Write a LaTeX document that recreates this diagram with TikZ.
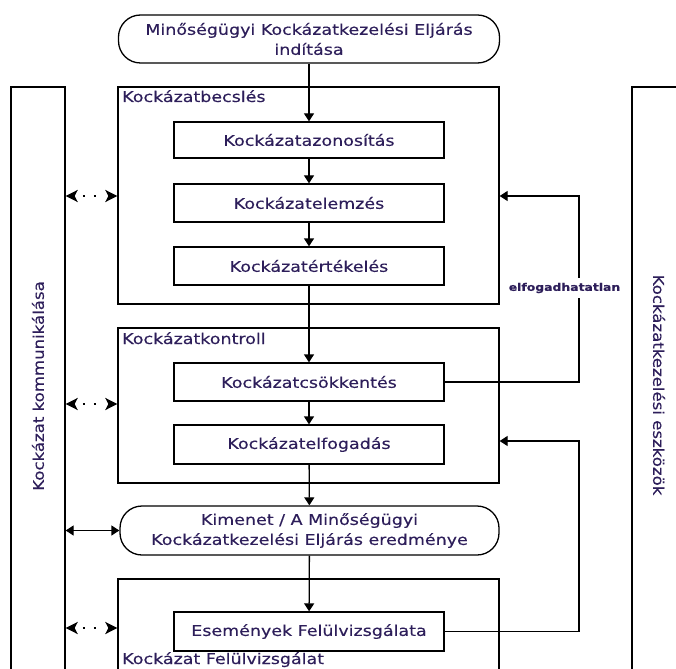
\documentclass[tikz,border=0pt]{standalone}
\usepackage{fontspec}
\setmainfont{DejaVu Sans}[FakeStretch=1.18,FakeBold=0.25]
\newfontfamily\vertfont{DejaVu Sans}[FakeStretch=1.12,FakeBold=0.25]
\usetikzlibrary{arrows.meta}
\definecolor{txt}{RGB}{45,30,90}
\tikzset{
  box/.style={draw, line width=1.3pt, minimum width=270pt, minimum height=38pt, inner sep=0pt,
    font=\fontsize{14.8}{18}\selectfont, text=txt},
  group/.style={draw, line width=1.3pt, inner sep=0pt, minimum width=381pt},
  term/.style={draw, line width=1.3pt, rounded corners=22pt, align=center, inner sep=0pt,
    font=\fontsize{14.8}{20}\selectfont, text=txt},
  grouplabel/.style={anchor=base west, inner sep=0pt, font=\fontsize{14.8}{18}\selectfont, text=txt},
  column/.style={draw, line width=1.3pt, inner sep=0pt, minimum width=54pt, minimum height=700pt},
  coltext/.style={inner sep=0pt, font=\vertfont\fontsize{14.8}{18}\selectfont, text=txt},
  flow/.style={-{Triangle[width=10pt,length=8pt]}, line width=1.3pt},
  twoway/.style={{Triangle[width=10pt,length=8pt]}-{Triangle[width=10pt,length=8pt]}, line width=1.3pt},
  dotarrow/.style={{Stealth[length=12pt,width=12pt,inset=3pt]}-{Stealth[length=12pt,width=12pt,inset=3pt]},
    line width=2.5pt, dash pattern=on 0pt off 9pt on 2.5pt off 8.5pt on 2.5pt off 40pt},
}
\begin{document}
\begin{tikzpicture}[x=1pt,y=-1pt]
\useasboundingbox (0,0) rectangle (676,668);
\clip (0,0) rectangle (676,668);

% side columns
\node[column] (komm) at (38,437) {};
\node[coltext, rotate=90] (kommt) at (38,386) {Kockázat kommunikálása};
\node[column] (eszk) at (659,437) {};
\node[coltext, rotate=-90] (eszkt) at (659,385) {Kockázatkezelési eszközök};

% start
\node[term, minimum width=381pt, minimum height=48pt] (start) at (309,39)
  {Minőségügyi Kockázatkezelési Eljárás\\indítása};

% Kockázatbecslés
\node[group, minimum height=217pt] (becs) at (308.5,195.5) {};
\node[grouplabel] (becsl) at (122,102) {Kockázatbecslés};
\node[box, minimum height=36pt] (azon) at (309,140) {Kockázatazonosítás};
\node[box] (elem) at (309,203) {Kockázatelemzés};
\node[box] (ert) at (309,266) {Kockázatértékelés};

% Kockázatkontroll
\node[group, minimum height=155pt] (kont) at (308.5,405.5) {};
\node[grouplabel] (kontl) at (122,344) {Kockázatkontroll};
\node[box] (csok) at (309,382) {Kockázatcsökkentés};
\node[box, minimum height=39pt] (elf) at (309,444.5) {Kockázatelfogadás};

% Kimenet
\node[term, minimum width=379pt, minimum height=49pt] (kim) at (309.5,530.5)
  {Kimenet / A Minőségügyi\\Kockázatkezelési Eljárás eredménye};

% Felülvizsgálat
\node[group, minimum height=160pt] (fel) at (308.5,659) {};
\node[grouplabel] (fell) at (122,664) {Kockázat Felülvizsgálat};
\node[box, minimum height=39pt] (esem) at (309,631.5) {Események Felülvizsgálata};

% main flow
\draw[flow] (start) -- (azon);
\draw[flow] (azon) -- (elem);
\draw[flow] (elem) -- (ert);
\draw[flow] (ert) -- (csok);
\draw[flow] (csok) -- (elf);
\draw[flow] (elf) -- (kim);
\draw[flow] (kim) -- (esem);

% feedback loops
\coordinate (fb1) at (579,196);
\draw[flow] (csok.east) -| (fb1) -- (becs.east |- fb1);
\node[fill=white, inner xsep=1pt, inner ysep=5pt, font=\bfseries\fontsize{10.5}{12}\selectfont, text=txt]
  (elfl) at (564.5,288) {elfogadhatatlan};
\coordinate (fb2) at (579,441);
\draw[flow] (esem.east) -| (fb2) -- (kont.east |- fb2);

% communication arrows
\coordinate (r1) at (0,196);
\coordinate (r2) at (0,404);
\coordinate (r3) at (0,628);
\draw[dotarrow] (komm.east |- r1) -- (becs.west |- r1);
\draw[dotarrow] (komm.east |- r2) -- (kont.west |- r2);
\draw[dotarrow] (komm.east |- r3) -- (fel.west |- r3);
\draw[twoway] (komm.east |- kim.west) -- (kim.west);
\end{tikzpicture}
\end{document}
